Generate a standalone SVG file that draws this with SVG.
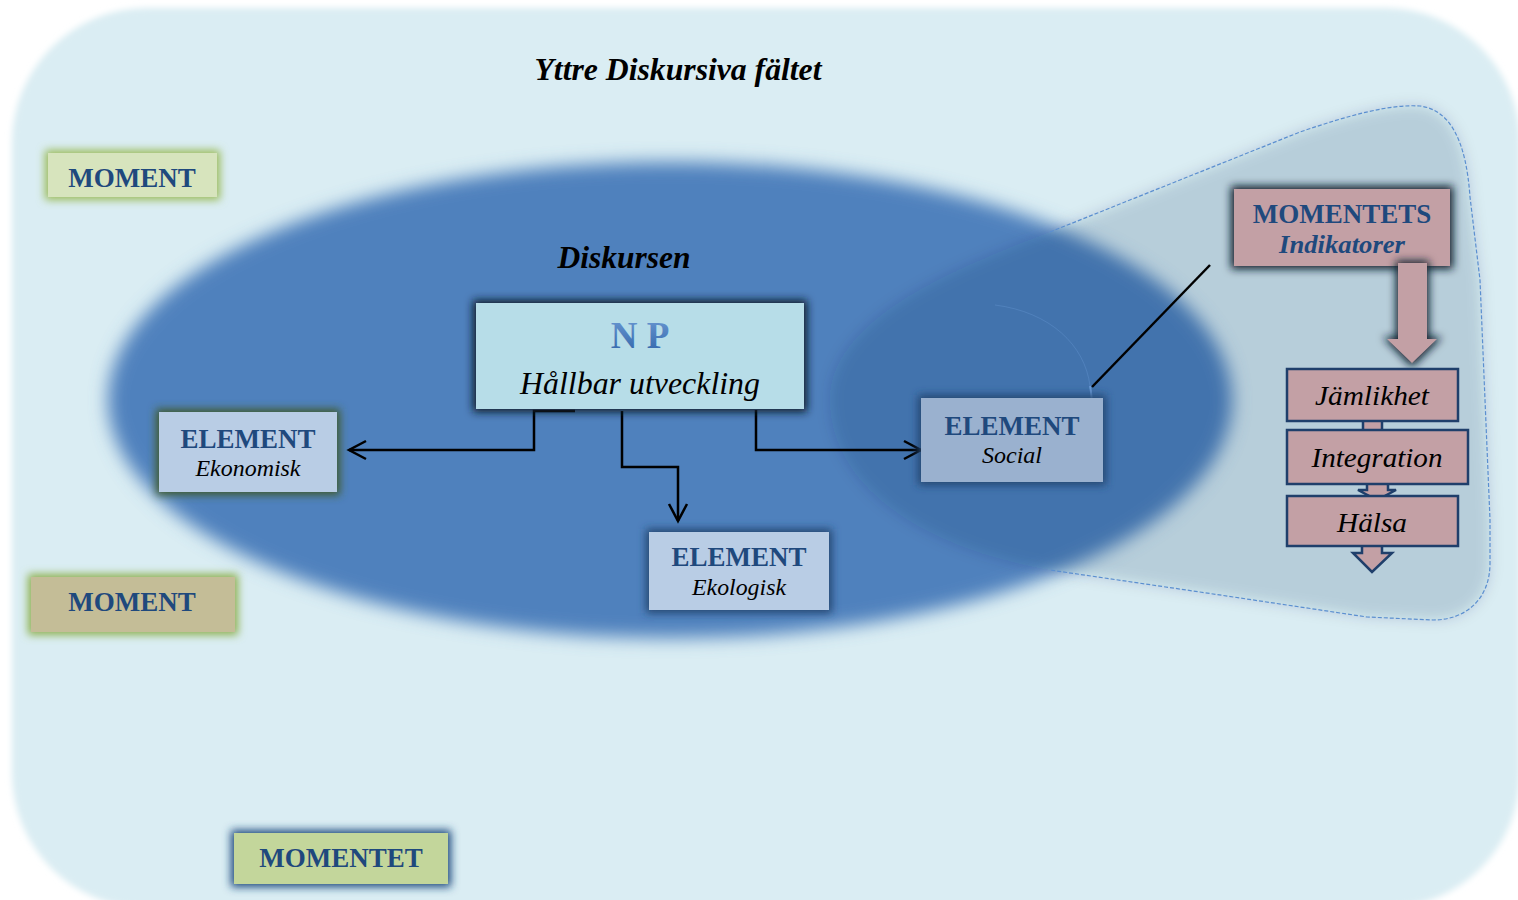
<svg xmlns="http://www.w3.org/2000/svg" width="1518" height="900" viewBox="0 0 1518 900">
<defs>
  <filter id="soft" x="-10%" y="-10%" width="120%" height="120%"><feGaussianBlur stdDeviation="3"/></filter>
  <filter id="ellblur" x="-10%" y="-20%" width="120%" height="140%"><feGaussianBlur stdDeviation="9"/></filter>
  <filter id="ovblur" x="-10%" y="-10%" width="120%" height="120%"><feGaussianBlur stdDeviation="7"/></filter>
  <filter id="glow" x="-20%" y="-30%" width="140%" height="160%"><feGaussianBlur stdDeviation="4"/></filter>
  <linearGradient id="npgrad" x1="0" y1="0" x2="0" y2="1">
    <stop offset="0" stop-color="#6d9ad4"/>
    <stop offset="1" stop-color="#2e63a8"/>
  </linearGradient>
  <marker id="open" markerWidth="22" markerHeight="22" refX="19" refY="11" orient="auto" markerUnits="userSpaceOnUse">
    <path d="M2,2 L19,11 L2,20" fill="none" stroke="#000" stroke-width="2.5"/>
  </marker>
  <style>
    .bold{font-family:"Liberation Serif","Times New Roman",serif;font-weight:bold;fill:#1f497d;text-anchor:middle}
    .ital{font-family:"Liberation Serif","Times New Roman",serif;font-style:italic;fill:#000;text-anchor:middle}
    .title{font-family:"Liberation Serif","Times New Roman",serif;font-style:italic;font-weight:bold;fill:#000;text-anchor:middle}
    .conn{fill:none;stroke:#000;stroke-width:2.5}
    .ind{fill:#c3a0a5;stroke:#1f3f6b;stroke-width:2.5}
  </style>
</defs>
<rect width="1518" height="900" fill="#ffffff"/>
<rect x="12" y="8" width="1508" height="900" rx="135" fill="#daedf3" filter="url(#soft)"/>
<g id="field-title"><text class="title" x="678" y="80" font-size="31" textLength="287" lengthAdjust="spacingAndGlyphs">Yttre Diskursiva fältet</text></g>

<g id="discourse">
  <ellipse cx="670" cy="400" rx="562" ry="238" fill="#4f81bd" filter="url(#ellblur)"/>
  <text class="title" x="624" y="268" font-size="31" textLength="133" lengthAdjust="spacingAndGlyphs">Diskursen</text>
</g>

<g id="moment-region">
  <path d="M830,400 C830,320 950,270 1050,232 L1300,132 C1350,115 1390,104 1420,106 C1450,110 1466,140 1470,197 L1480,280 L1490,520 L1490,563 C1490,600 1465,620 1433,620 L1367,617 L1200,592 L1050,570 C910,545 830,480 830,400 Z" fill="#0c2c57" fill-opacity="0.16" filter="url(#ovblur)"/>
  <path d="M1050,232 L1300,132 C1350,115 1390,104 1420,106 C1450,110 1466,140 1470,197 L1480,280 L1490,520 L1490,563 C1490,600 1465,620 1433,620 L1367,617 L1200,592 L1050,570" fill="none" stroke="#5b8fd0" stroke-width="1.2" stroke-dasharray="4,2"/>
</g>

<g id="connectors">
  <polyline class="conn" points="575,411 534,411 534,450 349,450" marker-end="url(#open)"/>
  <polyline class="conn" points="622,411 622,467 678,467 678,521" marker-end="url(#open)"/>
  <polyline class="conn" points="756,410 756,450 921,450" marker-end="url(#open)"/>
  <line class="conn" x1="1210" y1="265" x2="1092" y2="387"/>
  <path d="M1090,386 C1092,395 1092,404 1092,412" fill="none" stroke="#6a9ad6" stroke-width="2"/>
  <path d="M995,305 C1050,312 1085,345 1090,386" fill="none" stroke="#6a9ad6" stroke-width="1" opacity="0.35"/>
</g>

<g id="moment1">
  <rect x="45" y="150" width="175" height="50" fill="#9bbb59" filter="url(#glow)"/>
  <rect x="48" y="153" width="169" height="44" fill="#d7e4bd"/>
  <text class="bold" x="132" y="187" font-size="27">MOMENT</text>
</g>
<g id="moment2">
  <rect x="28" y="574" width="210" height="61" fill="#8db04e" filter="url(#glow)"/>
  <rect x="31" y="577" width="204" height="55" fill="#c4bd97"/>
  <text class="bold" x="132" y="611" font-size="27">MOMENT</text>
</g>
<g id="momentet">
  <rect x="231" y="830" width="220" height="57" fill="#1f497d" filter="url(#glow)"/>
  <rect x="234" y="833" width="214" height="51" fill="#c3d69b"/>
  <text class="bold" x="341" y="867" font-size="27">MOMENTET</text>
</g>

<g id="np">
  <rect x="473" y="300" width="334" height="112" fill="#0d1a2a" filter="url(#glow)"/>
  <rect x="476" y="303" width="328" height="106" fill="#b7dde8"/>
  <text class="bold" x="640" y="348" font-size="37" style="fill:url(#npgrad)">N P</text>
  <text class="ital" x="640" y="394" font-size="31" textLength="240" lengthAdjust="spacingAndGlyphs">Hållbar utveckling</text>
</g>

<g id="ekonomisk">
  <rect x="156" y="409" width="184" height="86" fill="#3f5a2a" filter="url(#glow)"/>
  <rect x="159" y="412" width="178" height="80" fill="#b9cde5"/>
  <text class="bold" x="248" y="448" font-size="27">ELEMENT</text>
  <text class="ital" x="248" y="476" font-size="23" textLength="105" lengthAdjust="spacingAndGlyphs">Ekonomisk</text>
</g>
<g id="ekologisk">
  <rect x="646" y="529" width="186" height="84" fill="#23446f" filter="url(#glow)"/>
  <rect x="649" y="532" width="180" height="78" fill="#b9cde5"/>
  <text class="bold" x="739" y="566" font-size="27">ELEMENT</text>
  <text class="ital" x="739" y="595" font-size="23" textLength="94" lengthAdjust="spacingAndGlyphs">Ekologisk</text>
</g>
<g id="social">
  <rect x="918" y="395" width="188" height="90" fill="#23446f" filter="url(#glow)"/>
  <rect x="921" y="398" width="182" height="84" fill="#9ab1cf"/>
  <text class="bold" x="1012" y="435" font-size="27">ELEMENT</text>
  <text class="ital" x="1012" y="463" font-size="23" textLength="60" lengthAdjust="spacingAndGlyphs">Social</text>
</g>

<g id="indikatorer">
  <rect x="1231" y="186" width="222" height="83" fill="#0d1a2a" filter="url(#glow)"/>
  <rect x="1234" y="189" width="216" height="77" fill="#c3a0a5"/>
  <text class="bold" x="1342" y="223" font-size="27">MOMENTETS</text>
  <text class="bold" x="1342" y="253" font-size="25" font-style="italic" textLength="126" lengthAdjust="spacingAndGlyphs">Indikatorer</text>
</g>
<g id="big-arrow">
  <path d="M1396,261 L1429,261 L1429,337 L1442,337 L1412,367 L1383,337 L1396,337 Z" fill="#0d1a2a" filter="url(#glow)"/>
  <path d="M1398,263 L1427,263 L1427,339 L1437,339 L1412,363 L1387,339 L1398,339 Z" fill="#c3a0a5"/>
</g>

<g id="jamlikhet">
  <rect class="ind" x="1363" y="418" width="19" height="14"/>
  <rect class="ind" x="1287" y="369" width="171" height="52"/>
  <text class="ital" x="1372" y="405" font-size="28" textLength="114" lengthAdjust="spacingAndGlyphs">Jämlikhet</text>
</g>
<g id="integration">
  <path class="ind" d="M1367,482 L1367,490 L1358,490 L1377,500 L1396,490 L1388,490 L1388,482 Z"/>
  <rect class="ind" x="1287" y="430" width="181" height="54"/>
  <text class="ital" x="1377" y="467" font-size="28" textLength="131" lengthAdjust="spacingAndGlyphs">Integration</text>
</g>
<g id="halsa">
  <path class="ind" d="M1362,544 L1362,553 L1353,553 L1372,572 L1392,553 L1382,553 L1382,544 Z"/>
  <rect class="ind" x="1287" y="496" width="171" height="50"/>
  <text class="ital" x="1372" y="532" font-size="28" textLength="70" lengthAdjust="spacingAndGlyphs">Hälsa</text>
</g>
</svg>
